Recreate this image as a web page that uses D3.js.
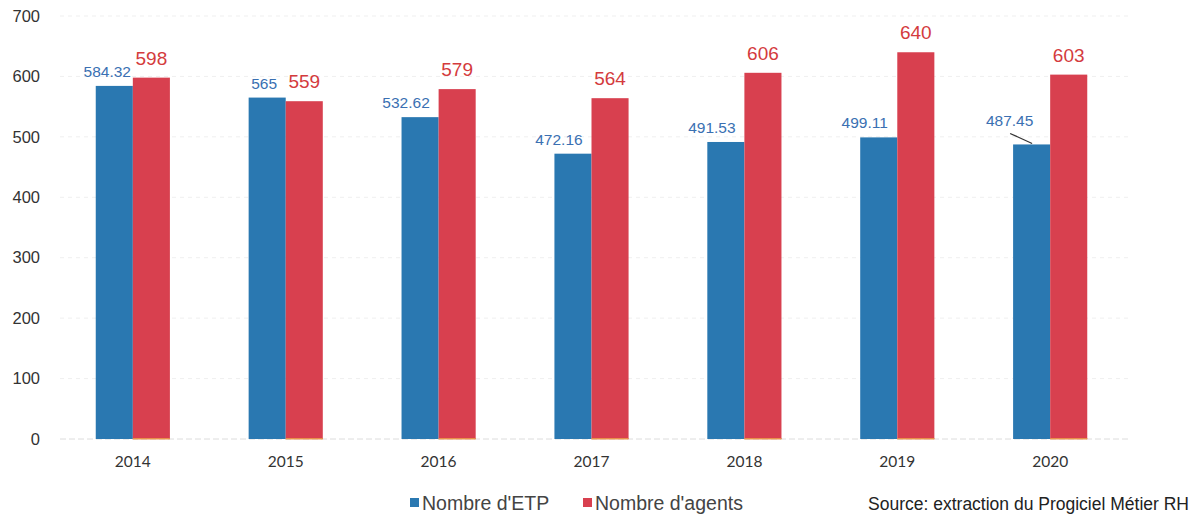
<!DOCTYPE html>
<html>
<head>
<meta charset="utf-8">
<script src="https://cdn.jsdelivr.net/npm/d3@7"></script>
<style>
  html, body { margin: 0; padding: 0; background: #fff; }
  svg { display: block; }
</style>
</head>
<body>
<svg id="chart" width="1193" height="517"></svg>
<script>
// Effectifs par année
const years = ["2014", "2015", "2016", "2017", "2018", "2019", "2020"];
const etp = [584.32, 565, 532.62, 472.16, 491.53, 499.11, 487.45];
const agents = [598, 559, 579, 564, 606, 640, 603];
const yTicks = [0, 100, 200, 300, 400, 500, 600, 700];
const seriesNames = ["Nombre d'ETP", "Nombre d'agents"];
const sourceText = "Source: extraction du Progiciel Métier RH";

const W = 1193, H = 517;
const margin = { top: 16, right: 66, bottom: 78, left: 56 };
const svg = d3.select("#chart");

const x = d3.scaleBand().domain(years)
  .range([margin.left, W - margin.right]).paddingInner(0.515).paddingOuter(0.26);
const sub = d3.scaleBand().domain(["etp", "agents"]).range([0, x.bandwidth()]);
const y = d3.scaleLinear().domain([0, 700]).range([H - margin.bottom, margin.top]);

const colBlue = "#2a78b1", colRed = "#d8404f";
const txtBlue = "#3a70b2", txtRed = "#d43b3d";

// Grid lines (very light, dashed)
svg.append("g").selectAll("line").data(yTicks).join("line")
  .attr("x1", 60).attr("x2", 1130)
  .attr("y1", d => y(d)).attr("y2", d => y(d))
  .attr("stroke", d => d === 0 ? "#dcdcdc" : "#efefef").attr("stroke-width", 1)
  .attr("stroke-dasharray", d => d === 0 ? "6,3" : "4,4");

// Y axis labels
const yAxis = d3.axisLeft(y).tickValues(yTicks).tickSize(0).tickPadding(0);
svg.append("g").attr("transform", "translate(40,0)").call(yAxis)
  .call(g => g.select(".domain").remove())
  .selectAll("text")
  .attr("font-family", "Liberation Sans, Arial, sans-serif")
  .attr("font-size", 16.5).attr("fill", "#333");

// X axis labels
const xAxis = d3.axisBottom(x).tickSize(0).tickPadding(0);
svg.append("g").attr("transform", `translate(0,${y(0) + 17})`).call(xAxis)
  .call(g => g.select(".domain").remove())
  .selectAll("text")
  .attr("font-family", "Lato, Carlito, sans-serif")
  .attr("font-size", 15.5).attr("fill", "#333");

const groups = svg.append("g").selectAll("g").data(years).join("g")
  .attr("transform", d => `translate(${x(d)},0)`);

// Bars
groups.append("rect")
  .attr("x", sub("etp")).attr("width", sub.bandwidth())
  .attr("y", (d, i) => y(etp[i])).attr("height", (d, i) => y(0) - y(etp[i]))
  .attr("fill", colBlue);
groups.append("rect")
  .attr("x", sub("agents")).attr("width", sub.bandwidth())
  .attr("y", (d, i) => y(agents[i])).attr("height", (d, i) => y(0) - y(agents[i]))
  .attr("fill", colRed);
// thin orange base under the red bars
groups.append("rect")
  .attr("x", sub("agents")).attr("width", sub.bandwidth())
  .attr("y", y(0) - 1).attr("height", 1.5)
  .attr("fill", "#e8904a");

// Value labels: ETP
const fmt = v => String(v);
const last = years.length - 1;
groups.append("text")
  .attr("x", (d, i) => sub("etp") + sub.bandwidth() / 2 - (i === 0 ? 7 : i === 1 ? 3 : i === last ? 22 : 14))
  .attr("y", (d, i) => y(etp[i]) - (i === last ? 18 : 9))
  .attr("text-anchor", "middle")
  .attr("font-family", "Liberation Sans, Arial, sans-serif")
  .attr("font-size", 15.5).attr("fill", txtBlue)
  .text((d, i) => fmt(etp[i]));

// Leader line for the last ETP label
groups.filter((d, i) => i === last).append("line")
  .attr("x1", sub("etp") - 3).attr("y1", y(etp[last]) - 11)
  .attr("x2", sub("etp") + 19).attr("y2", y(etp[last]) - 1)
  .attr("stroke", "#333").attr("stroke-width", 1.2);

// Value labels: agents
groups.append("text")
  .attr("x", sub("agents") + sub.bandwidth() / 2)
  .attr("y", (d, i) => y(agents[i]) - 13)
  .attr("text-anchor", "middle")
  .attr("font-family", "Liberation Sans, Arial, sans-serif")
  .attr("font-size", 19).attr("fill", txtRed)
  .text((d, i) => fmt(agents[i]));

// Legend
const legend = svg.append("g").attr("font-family", "Liberation Sans, Arial, sans-serif");
const legItems = [
  { name: seriesNames[0], color: colBlue, x: 410 },
  { name: seriesNames[1], color: colRed, x: 583 }
];
legItems.forEach(it => {
  legend.append("rect").attr("x", it.x).attr("y", 498).attr("width", 9).attr("height", 9).attr("fill", it.color);
  legend.append("text").attr("x", it.x + 12).attr("y", 510)
    .attr("font-size", 19.5).attr("fill", "#444").text(it.name);
});

// Source
svg.append("text").attr("x", 1189).attr("y", 510).attr("text-anchor", "end")
  .attr("font-family", "Liberation Sans, Arial, sans-serif")
  .attr("font-size", 17.5).attr("fill", "#222").text(sourceText);
</script>
</body>
</html>
